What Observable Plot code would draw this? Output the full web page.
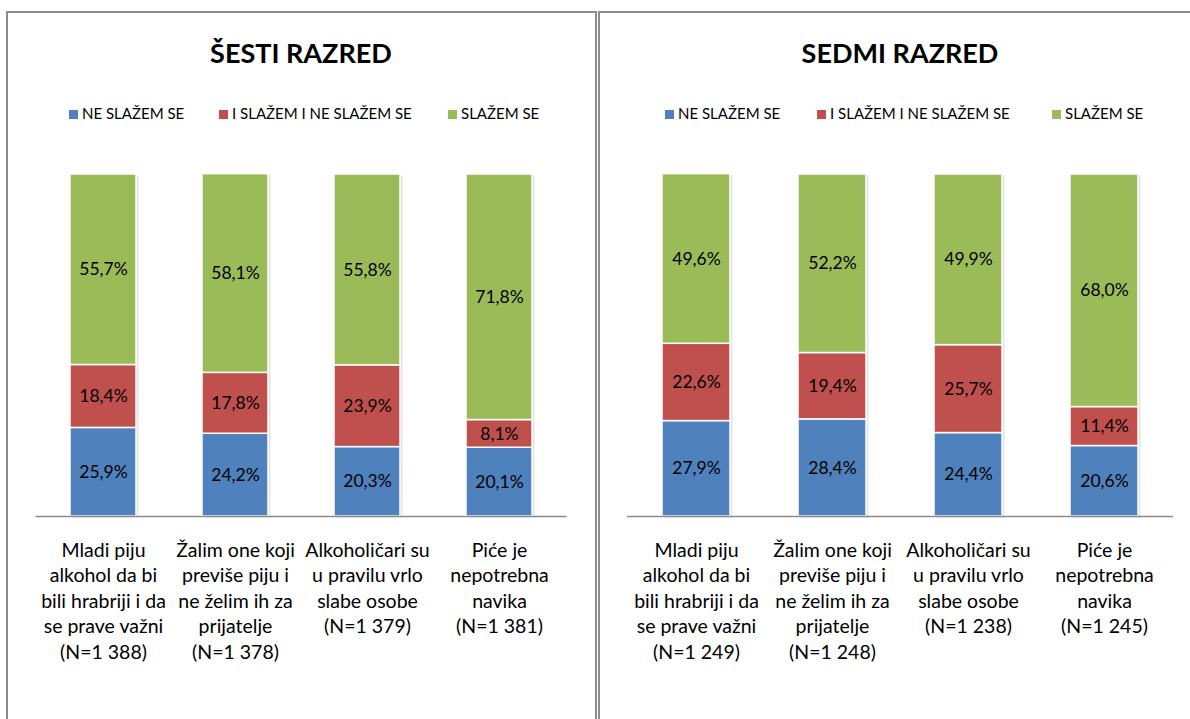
<!DOCTYPE html>
<html><head><meta charset="utf-8">
<script src="https://cdn.jsdelivr.net/npm/d3@7"></script>
<script src="https://cdn.jsdelivr.net/npm/@observablehq/plot@0.6"></script>
<style>
body{margin:0;width:1190px;height:719px;overflow:hidden;background:#fff;font-family:Lato,"Open Sans",sans-serif;position:relative}
.panel{position:absolute;border:2px solid #8c8c8c;border-bottom:none;box-sizing:border-box}
.title{position:absolute;font-weight:bold;font-size:27px;line-height:30px;transform:translateX(-50%);white-space:nowrap;color:#000}
.leg{position:absolute;font-size:15px;line-height:16px;white-space:nowrap;color:#000}
.sw{display:inline-block;width:9px;height:9px;margin-right:4px;vertical-align:0px}
.chart{position:absolute;top:150px}
</style></head><body>
<div class="panel" style="left:6px;top:11px;width:591px;height:760px"></div>
<div class="panel" style="left:598px;top:11px;width:640px;height:760px;border-right:none"></div>
<div id="root"></div>
<script>
const series = ["NE SLAŽEM SE", "I SLAŽEM I NE SLAŽEM SE", "SLAŽEM SE"];
const colors = ["#4F81BD", "#C0504D", "#9BBB59"];
const titles = ["ŠESTI RAZRED", "SEDMI RAZRED"];
const categories = [
  "Mladi piju\nalkohol da bi\nbili hrabriji i da\nse prave važni",
  "Žalim one koji\npreviše piju i\nne želim ih za\nprijatelje",
  "Alkoholičari su\nu pravilu vrlo\nslabe osobe",
  "Piće je\nnepotrebna\nnavika"
];
const n6 = ["1 388", "1 378", "1 379", "1 381"];
const ne6 = [25.9, 24.2, 20.3, 20.1];
const ini6 = [18.4, 17.8, 23.9, 8.1];
const sl6 = [55.7, 58.1, 55.8, 71.8];
const n7 = ["1 249", "1 248", "1 238", "1 245"];
const ne7 = [27.9, 28.4, 24.4, 20.6];
const ini7 = [22.6, 19.4, 25.7, 11.4];
const sl7 = [49.6, 52.2, 49.9, 68.0];

function rows(a, b, c) {
  return categories.flatMap((cat, i) => [
    {cat, s: series[0], v: a[i]},
    {cat, s: series[1], v: b[i]},
    {cat, s: series[2], v: c[i]}
  ]);
}
const fmt = v => v.toFixed(1).replace(".", ",") + "%";

function chart(data, ns, width, ml, mr) {
  const labels = categories.map((c, i) => ({cat: c, t: c + "\n(N=" + ns[i] + ")"}));
  const st = o => Plot.stackY({x: "cat", y: "v", z: "s", order: series, ...o});
  return Plot.plot({
    width, height: 569, marginTop: 24, marginBottom: 203, marginLeft: ml, marginRight: mr,
    x: {domain: categories, paddingInner: 0.5, paddingOuter: 0.25, axis: null},
    y: {domain: [0, 100], axis: null},
    color: {domain: series, range: colors},
    style: {fontFamily: "Lato, sans-serif", background: "transparent", overflow: "visible"},
    marks: [
      Plot.barY(data, st({fill: "#000", fillOpacity: 0.10, dx: 2.5, dy: 1.5})),
      Plot.barY(data, st({fill: "s", stroke: "#fff", strokeWidth: 1.5})),
      Plot.text(data, st({text: d => fmt(d.v), fontSize: 17.5, fill: "#000"})),
      Plot.ruleY([0], {stroke: "#8c8c8c", strokeWidth: 1.5}),
      Plot.text(labels, {x: "cat", text: "t", frameAnchor: "bottom", lineAnchor: "top", dy: 22, fontSize: 19.5, lineHeight: 1.31, fill: "#000"})
    ]
  });
}

const root = document.getElementById("root");
function addPanel(left, width, ml, mr, data, ns, title, titleX, legX) {
  const t = document.createElement("div");
  t.className = "title"; t.textContent = title;
  t.style.left = titleX + "px"; t.style.top = "38px";
  root.appendChild(t);
  series.forEach((s, i) => {
    const l = document.createElement("div");
    l.className = "leg";
    l.style.left = legX[i] + "px"; l.style.top = "105px";
    l.innerHTML = `<span class="sw" style="background:${colors[i]}"></span>` + s;
    root.appendChild(l);
  });
  const c = document.createElement("div");
  c.className = "chart"; c.style.left = left + "px";
  c.appendChild(chart(data, ns, width, ml, mr));
  root.appendChild(c);
}
addPanel(0, 600, 35.5, 33.5, rows(ne6, ini6, sl6), n6, titles[0], 301, [69, 219, 448]);
addPanel(600, 590, 27, 17, rows(ne7, ini7, sl7), n7, titles[1], 900, [665, 817, 1052]);
</script>
</body></html>
